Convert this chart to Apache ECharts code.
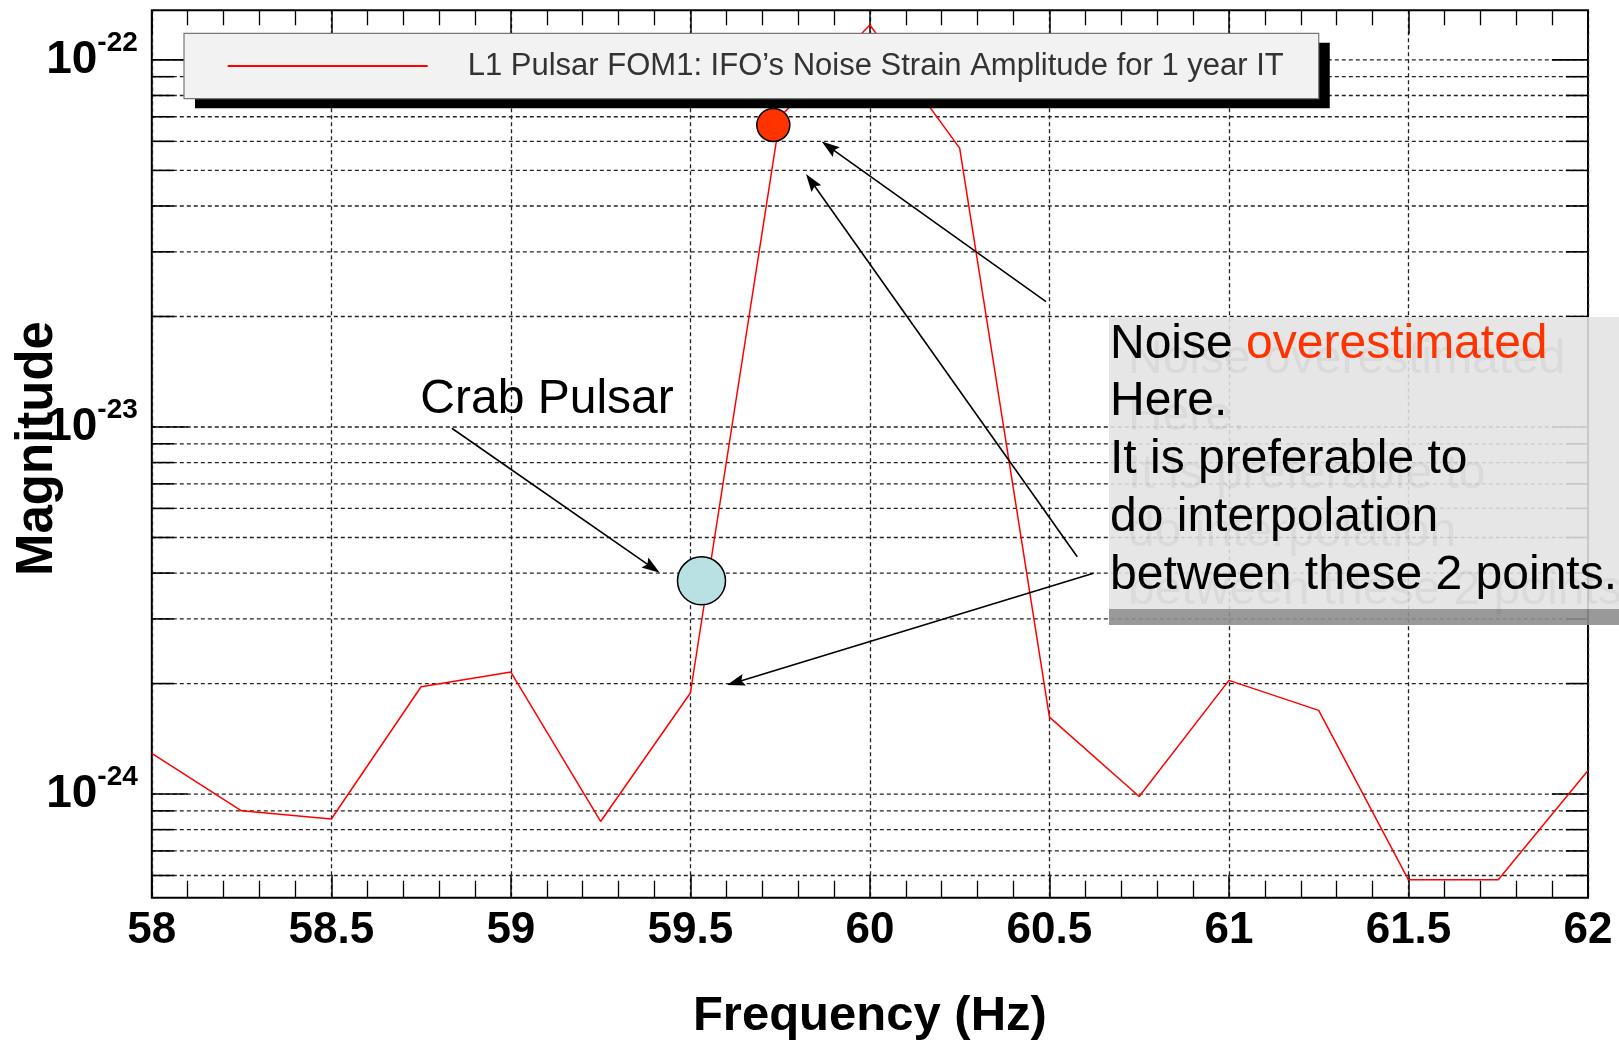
<!DOCTYPE html>
<html>
<head>
<meta charset="utf-8">
<script src="https://cdn.jsdelivr.net/npm/echarts@6/dist/echarts.min.js"></script>
<style>
html, body { margin: 0; padding: 0; background: #ffffff; }
#chart { width: 1619px; height: 1041px; }
</style>
</head>
<body>
<div id="chart"></div>
<script>
// ---------------- data ----------------
const seriesName = 'L1 Pulsar FOM1: IFO\u2019s Noise Strain Amplitude for 1 year IT';
const freq = [58, 58.25, 58.5, 58.75, 59, 59.25, 59.5, 59.75, 60, 60.25, 60.5, 60.75, 61, 61.25, 61.5, 61.75, 62];
const amplitude = [1.29e-24, 0.90e-24, 0.855e-24, 1.96e-24, 2.15e-24, 0.842e-24, 1.885e-24, 7.0e-23, 1.245e-22, 5.75e-23, 1.62e-24, 0.985e-24, 2.04e-24, 1.69e-24, 0.584e-24, 0.584e-24, 1.16e-24];
const crabPulsarPoint = [59.531, 3.81e-24];
const overestimatedPoint = [59.731, 6.65e-23];
const xRange = [58, 62];
const yRange = [5.22e-25, 1.365e-22];
const xTickStep = 0.5;
const yMajorTicks = [1e-24, 1e-23, 1e-22];
const yMinorTicks = [6e-25, 7e-25, 8e-25, 9e-25,
  2e-24, 3e-24, 4e-24, 5e-24, 6e-24, 7e-24, 8e-24, 9e-24,
  2e-23, 3e-23, 4e-23, 5e-23, 6e-23, 7e-23, 8e-23, 9e-23];
// annotation arrows: [from, to] in data coordinates
const arrowFrom = [[58.8357, 9.919e-24], [60.4905, 2.195e-23], [60.5774, 4.432e-24], [60.6228, 3.994e-24]];
const arrowTo   = [[59.3940, 4.139e-24], [59.8861, 5.797e-23], [59.8365, 4.671e-23], [59.6260, 2.014e-24]];
const xAxisTitle = 'Frequency (Hz)';
const yAxisTitle = 'Magnitude';
const crabLabel = 'Crab Pulsar';
const noteLines = ['Noise ', 'overestimated', 'Here.', 'It is preferable to', 'do interpolation', 'between these 2 points.'];

// ---------------- chart ----------------
const FONT = '"Liberation Sans", Arial, Helvetica, sans-serif';
const chart = echarts.init(document.getElementById('chart'), null, { renderer: 'canvas' });

const lineData = freq.map((f, i) => [f, amplitude[i]]);
const gridData = yMajorTicks.map(v => [xRange[0], v, 1]).concat(yMinorTicks.map(v => [xRange[0], v, 0]));
const arrowHead = 'path://M6,0 L12,18 L6,15 L0,18 Z';
const markLines = arrowFrom.map((a, i) => [
  { coord: a, symbol: 'none' },
  { coord: arrowTo[i], symbol: arrowHead, symbolSize: 18, symbolKeepAspect: true }
]);

const noteText = '{n|' + noteLines[0] + '}{o|' + noteLines[1] + '}\n{n|' + noteLines[2] + '}\n{n|' +
  noteLines[3] + '}\n{n|' + noteLines[4] + '}\n{n|' + noteLines[5] + '}';
function noteRich(c1, c2) {
  return {
    n: { fill: c1, fontFamily: FONT, fontSize: 48, lineHeight: 57.75 },
    o: { fill: c2, fontFamily: FONT, fontSize: 48, lineHeight: 57.75 }
  };
}

const legendBase = {
  show: true,
  data: [seriesName],
  left: 184, top: 33.3,
  padding: [17.2, 35, 17.2, 43.7],
  icon: 'rect', itemWidth: 200, itemHeight: 2,
  selectedMode: false,
  borderRadius: 0
};

const option = {
  animation: false,
  backgroundColor: '#ffffff',
  grid: {
    left: 151.8, right: 31, top: 10.3, bottom: 143.3,
    containLabel: false, outerBoundsMode: 'none',
    show: true, borderColor: '#000', borderWidth: 2, backgroundColor: 'transparent'
  },
  legend: [
    Object.assign({}, legendBase, {
      z: 10,
      backgroundColor: '#F2F2F2', borderWidth: 0,
      shadowColor: '#000', shadowBlur: 0, shadowOffsetX: 11, shadowOffsetY: 9.5,
      textStyle: { fontFamily: FONT, fontSize: 31, color: '#333', padding: [0, 0, 0, 35] }
    }),
    Object.assign({}, legendBase, {
      z: 11,
      backgroundColor: 'transparent', borderColor: '#777', borderWidth: 1.2,
      itemStyle: { color: 'rgba(0,0,0,0)' },
      textStyle: { fontFamily: FONT, fontSize: 31, color: 'rgba(0,0,0,0)', padding: [0, 0, 0, 35] }
    })
  ],
  xAxis: [{
    type: 'value', min: xRange[0], max: xRange[1], interval: xTickStep,
    position: 'bottom',
    name: xAxisTitle, nameLocation: 'middle', nameGap: 94, nameMoveOverlap: false,
    nameTextStyle: { fontFamily: FONT, fontSize: 49, fontWeight: 'bold', color: '#000' },
    axisLine: { show: false },
    axisTick: { show: true, inside: true, length: 23, lineStyle: { color: '#000', width: 1.5 } },
    minorTick: { show: true, splitNumber: 5, length: 17, lineStyle: { color: '#000', width: 1.3 } },
    axisLabel: { show: true, margin: 11, fontFamily: FONT, fontSize: 44, fontWeight: 'bold', color: '#000' },
    splitLine: { show: true, lineStyle: { color: '#222', width: 1.3, type: [4, 3] } },
    minorSplitLine: { show: false }
  }, {
    type: 'value', min: xRange[0], max: xRange[1], interval: xTickStep,
    position: 'top',
    axisLine: { show: false },
    axisTick: { show: true, inside: true, length: 24, lineStyle: { color: '#000', width: 1.5 } },
    minorTick: { show: true, splitNumber: 5, length: 15, lineStyle: { color: '#000', width: 1.3 } },
    axisLabel: { show: false },
    splitLine: { show: false }
  }],
  yAxis: [{
    type: 'log', logBase: 10, min: yRange[0], max: yRange[1],
    name: yAxisTitle, nameLocation: 'middle', nameGap: 88, nameRotate: 90, nameMoveOverlap: false,
    nameTextStyle: { fontFamily: FONT, fontSize: 51, fontWeight: 'bold', color: '#000', padding: [0, 0, 0, 11] },
    axisLine: { show: false },
    axisTick: { show: false },
    splitLine: { show: false },
    axisLabel: {
      show: true, margin: 14, showMinLabel: false, showMaxLabel: false,
      formatter: function (v) {
        const e = Math.log10(v);
        if (Math.abs(e - Math.round(e)) > 1e-6) return '';
        return '{b|10}{s|' + Math.round(e) + '}';
      },
      rich: {
        b: { fontFamily: FONT, fontSize: 46, fontWeight: 'bold', color: '#000' },
        s: { fontFamily: FONT, fontSize: 28, fontWeight: 'bold', color: '#000', padding: [0, 0, 33, 0] }
      }
    }
  }],
  series: [{
    // horizontal grid lines and left/right ticks (log positions)
    type: 'custom', name: 'ygrid', silent: true, z: 1,
    xAxisIndex: 0, yAxisIndex: 0,
    data: gridData,
    renderItem: function (params, api) {
      const v = api.value(1);
      const major = api.value(2) === 1;
      const p1 = api.coord([xRange[0], v]);
      const p2 = api.coord([xRange[1], v]);
      const len = major ? 36 : 22;
      return {
        type: 'group',
        children: [
          { type: 'line', shape: { x1: p1[0], y1: p1[1], x2: p2[0], y2: p2[1] },
            style: { stroke: '#222', lineWidth: 1.3, lineDash: [4, 3] } },
          { type: 'line', shape: { x1: p1[0], y1: p1[1], x2: p1[0] + len, y2: p1[1] },
            style: { stroke: '#000', lineWidth: 1.6 } },
          { type: 'line', shape: { x1: p2[0] - len, y1: p2[1], x2: p2[0], y2: p2[1] },
            style: { stroke: '#000', lineWidth: 1.6 } }
        ]
      };
    }
  }, {
    type: 'line', name: seriesName, data: lineData, z: 3,
    symbol: 'none', showSymbol: false, smooth: false,
    lineStyle: { color: '#FF0000', width: 1.5 },
    itemStyle: { color: '#FF0000' },
    emphasis: { disabled: true }
  }, {
    type: 'scatter', name: 'crab', data: [crabPulsarPoint], z: 4,
    symbol: 'circle', symbolSize: 48,
    itemStyle: { color: '#B9E0E3', borderColor: '#000', borderWidth: 1.5, opacity: 1 },
    emphasis: { disabled: true }, silent: true
  }, {
    type: 'scatter', name: 'over', data: [overestimatedPoint], z: 4,
    symbol: 'circle', symbolSize: 33,
    itemStyle: { color: '#FF3300', borderColor: '#000', borderWidth: 1.5, opacity: 1 },
    emphasis: { disabled: true }, silent: true,
    markLine: {
      silent: true, animation: false,
      symbol: ['none', arrowHead],
      symbolSize: [0, 18],
      symbolKeepAspect: true,
      label: { show: false },
      lineStyle: { color: '#000', width: 1.6, type: 'solid' },
      itemStyle: { color: '#000' },
      emphasis: { disabled: true },
      data: markLines
    }
  }],
  graphic: [
    { type: 'rect', z: 50, silent: true, shape: { x: 1109, y: 317, width: 510, height: 292 },
      style: { fill: 'rgba(227,227,227,0.88)' } },
    { type: 'rect', z: 50, silent: true, shape: { x: 1109, y: 609, width: 510, height: 16 },
      style: { fill: 'rgba(142,142,142,0.9)' } },
    { type: 'text', z: 51, silent: true, x: 1110 + 18, y: 315.6 + 15,
      style: { text: noteText, align: 'left', verticalAlign: 'top',
        fontFamily: FONT, fontSize: 48, lineHeight: 57.75,
        rich: noteRich('rgba(0,0,0,0.05)', 'rgba(0,0,0,0.05)') } },
    { type: 'text', z: 52, silent: true, x: 1110, y: 315.6,
      style: { text: noteText, align: 'left', verticalAlign: 'top',
        fontFamily: FONT, fontSize: 48, lineHeight: 57.75, fill: '#000',
        rich: noteRich('#000', '#FF3300') } },
    { type: 'text', z: 51, silent: true, x: 420.3, y: 399.8,
      style: { text: crabLabel, align: 'left', verticalAlign: 'middle', fontFamily: FONT, fontSize: 48, fill: '#000' } }
  ]
};
chart.setOption(option);
</script>
</body>
</html>
